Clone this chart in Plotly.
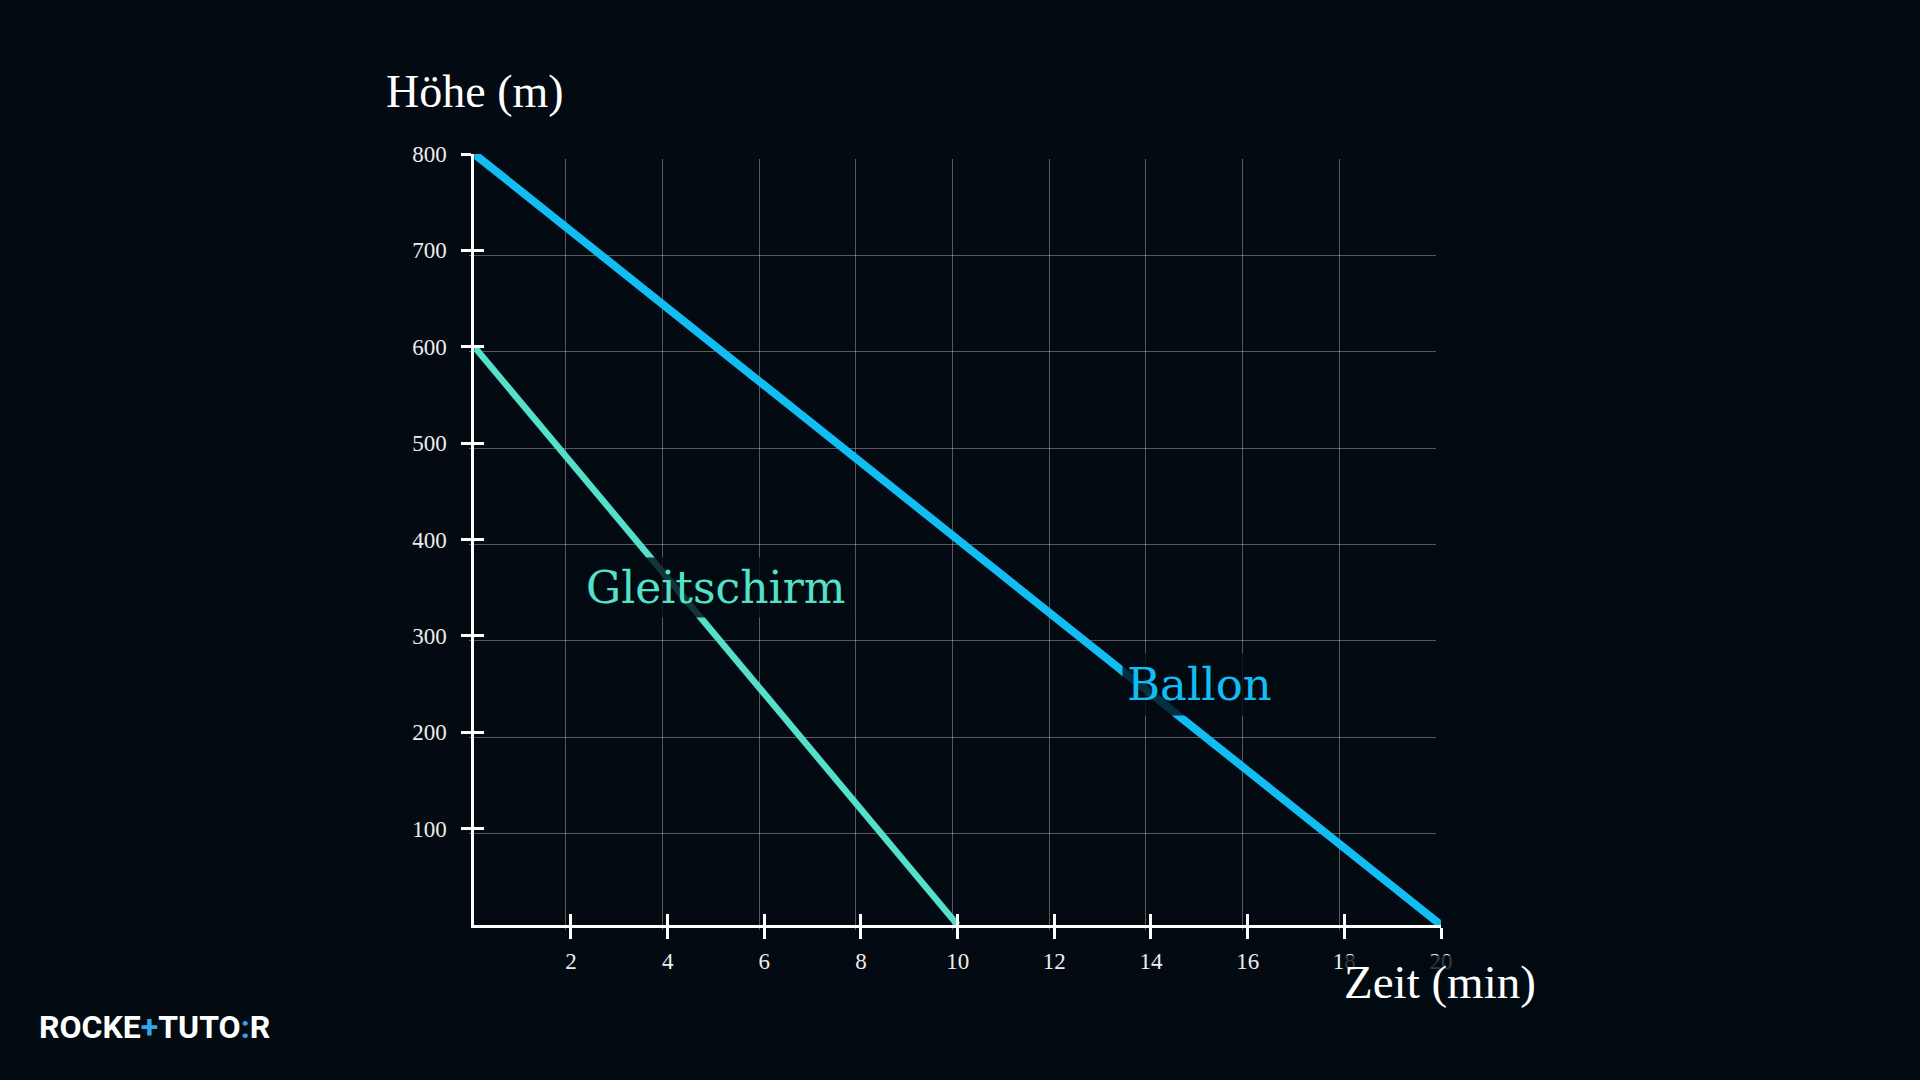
import plotly.graph_objects as go

# ---- data ----
ballon_t = [0, 20]
ballon_h = [800, 0]
gleit_t = [0, 10]
gleit_h = [600, 0]
x_ticks = [2, 4, 6, 8, 10, 12, 14, 16, 18, 20]
y_ticks = [100, 200, 300, 400, 500, 600, 700, 800]
x_grid = [0, 2, 4, 6, 8, 10, 12, 14, 16, 18]
y_grid = [0, 100, 200, 300, 400, 500, 600, 700]

BG = "#030A12"
BLUE = "#12BDF4"
TURQ = "#55E0CA"
W, H = 1920, 1080

# pixel geometry of the axes
x0, x1 = 474.3, 1441.0
yb, yt = 925.0, 154.0
shift = 5.0

def dx(a, b):
    return [a / W, b / W]

def dy(bottom, top):
    return [1 - bottom / H, 1 - top / H]

fig = go.Figure()

# grid subplot (x, y) - slightly offset like the original
fig.add_trace(go.Scatter(x=ballon_t, y=ballon_h, mode="lines", line=dict(width=0),
                         opacity=0, hoverinfo="skip", showlegend=False, xaxis="x", yaxis="y"))

# data subplot (x2, y2)
fig.add_trace(go.Scatter(x=gleit_t, y=gleit_h, mode="lines", name="Gleitschirm",
                         line=dict(color=TURQ, width=6.5), showlegend=False,
                         xaxis="x2", yaxis="y2"))
fig.add_trace(go.Scatter(x=ballon_t, y=ballon_h, mode="lines", name="Ballon",
                         line=dict(color=BLUE, width=8), showlegend=False,
                         xaxis="x2", yaxis="y2"))

# inside ticks overlay (x3, y3)
fig.add_trace(go.Scatter(x=ballon_t, y=ballon_h, mode="lines", line=dict(width=0),
                         opacity=0, hoverinfo="skip", showlegend=False, xaxis="x3", yaxis="y3"))

tick_font = dict(family="Liberation Serif, DejaVu Serif, serif", size=23, color="#EDEDED")

fig.update_layout(
    width=W, height=H, autosize=False, showlegend=False,
    margin=dict(l=0, r=0, t=0, b=0, pad=0, autoexpand=False),
    paper_bgcolor=BG, plot_bgcolor="rgba(0,0,0,0)",
    xaxis=dict(domain=dx(x0 - shift, x1 - shift), range=[0, 20], anchor="y",
               tickmode="array", tickvals=x_grid, showticklabels=False, ticks="",
               showgrid=True, gridcolor="rgba(255,255,255,0.33)", gridwidth=1,
               zeroline=False, showline=False),
    yaxis=dict(domain=dy(yb + shift, yt + shift), range=[0, 800], anchor="x",
               tickmode="array", tickvals=y_grid, showticklabels=False, ticks="",
               showgrid=True, gridcolor="rgba(255,255,255,0.33)", gridwidth=1,
               zeroline=False, showline=False),
    xaxis2=dict(domain=dx(x0, x1), range=[0, 20], anchor="y2",
                tickmode="array", tickvals=x_ticks, ticks="outside", ticklen=11,
                tickwidth=3, tickcolor="white", showline=True, linecolor="white",
                linewidth=3, showgrid=False, zeroline=False, tickfont=tick_font,
                ticklabelstandoff=2),
    yaxis2=dict(domain=dy(yb, yt), range=[0, 800], anchor="x2",
                tickmode="array", tickvals=y_ticks, ticks="outside", ticklen=10,
                tickwidth=3, tickcolor="white", showline=True, linecolor="white",
                linewidth=3, showgrid=False, zeroline=False, tickfont=tick_font,
                ticklabelstandoff=10),
    xaxis3=dict(overlaying="x2", range=[0, 20], anchor="y3",
                tickmode="array", tickvals=x_ticks, ticks="inside", ticklen=11,
                tickwidth=3, tickcolor="white", showticklabels=False,
                showline=False, showgrid=False, zeroline=False),
    yaxis3=dict(overlaying="y2", range=[0, 800], anchor="x3",
                tickmode="array", tickvals=y_ticks, ticks="inside", ticklen=10,
                tickwidth=3, tickcolor="white", showticklabels=False,
                showline=False, showgrid=False, zeroline=False),
    annotations=[
        dict(text="Höhe (m)", xref="paper", yref="paper", x=475 / W, y=1 - 92 / H,
             xanchor="center", yanchor="middle", showarrow=False,
             font=dict(family="Liberation Serif, DejaVu Serif, serif", size=46, color="white")),
        dict(text="Zeit (min)", xref="paper", yref="paper", x=1440 / W, y=1 - 982 / H,
             xanchor="center", yanchor="middle", showarrow=False,
             bgcolor="rgba(3,10,18,0.8)", borderpad=0,
             font=dict(family="Liberation Serif, DejaVu Serif, serif", size=47, color="white")),
        dict(text="Gleitschirm", xref="x2", yref="y2", x=5, y=350,
             xanchor="center", yanchor="middle", showarrow=False,
             bgcolor="rgba(3,10,18,0.8)", borderpad=4,
             font=dict(family="DejaVu Serif, serif", size=44, color=TURQ)),
        dict(text="Ballon", xref="x2", yref="y2", x=15, y=250,
             xanchor="center", yanchor="middle", showarrow=False,
             bgcolor="rgba(3,10,18,0.8)", borderpad=4,
             font=dict(family="DejaVu Serif, serif", size=45, color=BLUE)),
        dict(text="ROCKE<span style='color:#2FA8E8'>+</span>TUTO<span style='color:#2FA8E8'>:</span>R",
             xref="paper", yref="paper", x=37 / W, y=1 - 1027 / H,
             xanchor="left", yanchor="middle", showarrow=False,
             font=dict(family="Roboto, Inter, sans-serif", size=32, color="white", weight="bold")),
    ],
)

fig.write_html("out.html")
